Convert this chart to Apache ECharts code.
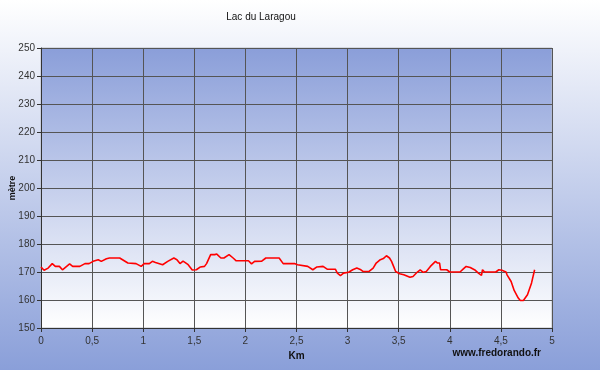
<!DOCTYPE html>
<html lang="fr">
<head>
    <meta charset="UTF-8">
    <title>Lac du Laragou</title>
    <style>html, body { margin: 0; padding: 0; }</style>
</head>
<body>
<script src="https://cdn.jsdelivr.net/npm/echarts@6/dist/echarts.min.js"></script>
<div id="main" style="width:600px;height:370px;"></div>

<script type="text/javascript">
    // profil altimétrique, distance en km / altitude en mètres
    var distKm = [0.00, 0.03, 0.07, 0.11, 0.14, 0.18, 0.21, 0.28, 0.31, 0.38, 0.43, 0.47, 0.51, 0.56, 0.59, 0.64, 0.67, 0.77, 0.85, 0.93,
        0.98, 1.01, 1.06, 1.09, 1.12, 1.19, 1.24, 1.30, 1.33, 1.36, 1.39, 1.44, 1.48, 1.52, 1.56, 1.60, 1.62, 1.66, 1.70, 1.72,
        1.73, 1.76, 1.79, 1.84, 1.88, 1.91, 1.99, 2.03, 2.06, 2.09, 2.16, 2.20, 2.33, 2.37, 2.48, 2.51, 2.61, 2.66, 2.70, 2.76,
        2.80, 2.88, 2.90, 2.93, 2.96, 3.01, 3.05, 3.09, 3.10, 3.13, 3.15, 3.21, 3.25, 3.28, 3.32, 3.35, 3.38, 3.41, 3.43, 3.45,
        3.47, 3.51, 3.55, 3.61, 3.64, 3.68, 3.71, 3.74, 3.77, 3.81, 3.86, 3.88, 3.90, 3.91, 3.97, 4.00, 4.10, 4.13, 4.16, 4.20,
        4.25, 4.28, 4.31, 4.32, 4.34, 4.45, 4.48, 4.51, 4.55, 4.56, 4.60, 4.63, 4.67, 4.69, 4.72, 4.76, 4.80, 4.83];
    var altitude = [171.8, 170.6, 171.4, 173.0, 172.0, 172.0, 170.8, 172.9, 172.0, 172.0, 173.0, 173.0, 173.8, 174.4, 173.8, 174.7, 175.0, 175.0, 173.2, 173.0,
        172.0, 173.0, 173.0, 173.8, 173.4, 172.6, 173.8, 175.0, 174.4, 173.0, 173.9, 172.6, 170.7, 170.8, 171.8, 172.0, 173.0, 176.2, 176.2, 176.4,
        176.8, 175.0, 175.0, 176.2, 175.0, 174.0, 174.0, 174.0, 172.9, 173.8, 173.9, 175.0, 175.0, 173.0, 173.0, 172.6, 172.0, 170.8, 171.8, 172.0,
        171.0, 171.0, 169.6, 168.7, 169.6, 169.9, 170.8, 171.4, 171.8, 170.8, 170.2, 170.2, 171.4, 173.2, 174.4, 174.8, 175.8, 175.0, 173.8, 172.0,
        170.2, 169.4, 169.0, 168.1, 168.4, 169.9, 170.8, 169.9, 170.2, 172.0, 173.8, 173.2, 173.2, 170.8, 170.8, 170.0, 170.0, 171.0, 172.0, 171.6,
        170.6, 169.6, 168.8, 170.8, 170.0, 170.0, 170.8, 170.6, 170.0, 169.0, 166.6, 163.4, 160.7, 159.8, 159.8, 161.9, 166.1, 170.8];

    var titre = 'Lac du Laragou';
    var nomX = 'Km', nomY = 'mètre', source = 'www.fredorando.fr';

    var points = distKm.map(function (d, i) { return [d, altitude[i]]; });

    var font = 'Liberation Sans, Arial, sans-serif';
    var myChart = echarts.init(document.getElementById('main'));

    option = {
        animation: false,
        backgroundColor: new echarts.graphic.LinearGradient(0, 0, 0, 1, [
            {offset: 0, color: '#ffffff'},
            {offset: 1, color: '#8a9fd9'}
        ]),
        textStyle: {fontFamily: font},
        grid: {
            left: 41, right: 48, top: 48, height: 280,
            outerBoundsMode: 'none',
            containLabel: false,
            show: true,
            borderWidth: 1,
            borderColor: '#b8bcc8',
            backgroundColor: new echarts.graphic.LinearGradient(0, 0, 0, 1, [
                {offset: 0, color: '#8a9ed9'},
                {offset: 1, color: '#ffffff'}
            ])
        },
        graphic: [
            {type: 'text', x: 261, y: 17, style: {text: titre, font: '10px ' + font, fill: '#111', textAlign: 'center', textVerticalAlign: 'middle'}},
            {type: 'text', x: 541, y: 353, style: {text: source, font: 'bold 10px ' + font, fill: '#111', textAlign: 'right', textVerticalAlign: 'middle'}}
        ],
        xAxis: {
            type: 'value', min: 0, max: 5, interval: 0.5,
            name: nomX, nameLocation: 'middle', nameGap: 23, nameMoveOverlap: false,
            nameTextStyle: {fontWeight: 'bold', fontSize: 10, color: '#111'},
            axisLine: {lineStyle: {color: '#333'}},
            axisTick: {show: true, length: 4, lineStyle: {color: '#333'}},
            axisLabel: {fontSize: 10, color: '#333', margin: 8, formatter: function (v) { return String(v).replace('.', ','); }},
            splitLine: {show: true, lineStyle: {color: '#555', width: 1}}
        },
        yAxis: {
            type: 'value', min: 150, max: 250, interval: 10,
            name: nomY, nameLocation: 'middle', nameGap: 24, nameRotate: 90, nameMoveOverlap: false,
            nameTextStyle: {fontWeight: 'bold', fontSize: 9, color: '#111'},
            axisLine: {show: true, lineStyle: {color: '#333'}},
            axisTick: {show: true, length: 4, lineStyle: {color: '#333'}},
            axisLabel: {fontSize: 10, color: '#333', margin: 6},
            splitLine: {show: true, lineStyle: {color: '#555', width: 1}}
        },
        series: [{
            type: 'line',
            data: points,
            showSymbol: false,
            lineStyle: {color: '#ff0000', width: 1.6},
            itemStyle: {color: '#ff0000'}
        }]
    };
    myChart.setOption(option);
</script>
</body>
</html>
